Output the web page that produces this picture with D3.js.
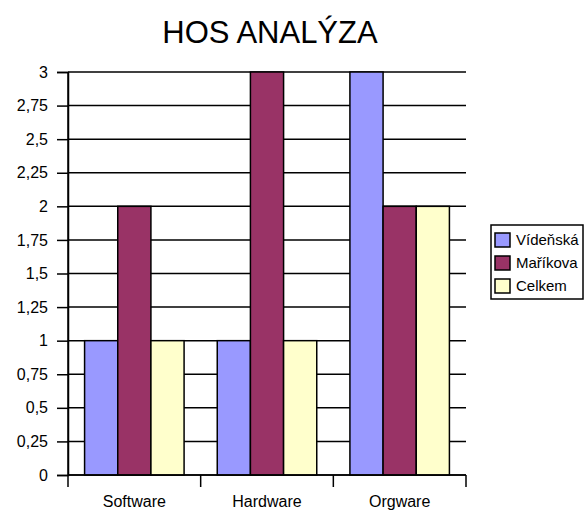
<!DOCTYPE html>
<html>
<head>
<meta charset="utf-8">
<script src="https://cdn.jsdelivr.net/npm/d3@7"></script>
<style>
  body { margin: 0; background: #fff; }
  text { font-family: "Liberation Sans", Arial, sans-serif; }
</style>
</head>
<body>
<svg id="chart" width="584" height="511"></svg>
<script>
// chart data
var categories = ["Software", "Hardware", "Orgware"];
var seriesNames = ["Vídeňská", "Maříkova", "Celkem"];
var videnska = [1, 1, 3];
var marikova = [2, 3, 2];
var celkem = [1, 1, 2];
var yTicks = [0, 0.25, 0.5, 0.75, 1, 1.25, 1.5, 1.75, 2, 2.25, 2.5, 2.75, 3];
var colors = ["#9999ff", "#993366", "#ffffcc"];

var series = [videnska, marikova, celkem];

var svg = d3.select("#chart");
var plotLeft = 68, plotRight = 466, plotTop = 72, plotBottom = 475;

var x0 = d3.scaleBand().domain(categories).range([plotLeft, plotRight]).paddingInner(0).paddingOuter(0);
var x1 = d3.scaleBand().domain(seriesNames).range([0, x0.bandwidth()]).paddingInner(0).paddingOuter(0.5);
var y = d3.scaleLinear().domain([0, 3]).range([plotBottom, plotTop]);

// title
svg.append("text")
  .attr("x", 270).attr("y", 43)
  .attr("text-anchor", "middle")
  .style("font-size", "31px")
  .text("HOS ANALÝZA");

// gridlines
svg.append("g")
  .selectAll("line")
  .data(yTicks)
  .enter().append("line")
  .attr("x1", plotLeft).attr("x2", plotRight)
  .attr("y1", function(d) { return y(d); })
  .attr("y2", function(d) { return y(d); })
  .attr("stroke", "#000").attr("stroke-width", 1.5);

// y axis
var fmt = function(d) { return String(d).replace(".", ","); };
svg.append("g")
  .attr("transform", "translate(" + plotLeft + ",0)")
  .call(d3.axisLeft(y).tickValues(yTicks).tickFormat(fmt).tickSize(11).tickPadding(9))
  .call(function(g) {
    g.select(".domain").attr("stroke", "#000").attr("stroke-width", 1.5);
    g.selectAll(".tick line").attr("stroke", "#000").attr("stroke-width", 1.5);
    g.selectAll("text").style("font-size", "16px").style("font-family", "Liberation Sans, Arial, sans-serif").attr("fill", "#000");
  });

// bars
var groups = svg.append("g")
  .selectAll("g")
  .data(categories)
  .enter().append("g")
  .attr("transform", function(d) { return "translate(" + x0(d) + ",0)"; });

groups.selectAll("rect")
  .data(function(d, i) { return series.map(function(s, j) { return { name: seriesNames[j], value: s[i], color: colors[j] }; }); })
  .enter().append("rect")
  .attr("x", function(d) { return x1(d.name); })
  .attr("width", x1.bandwidth())
  .attr("y", function(d) { return y(d.value); })
  .attr("height", function(d) { return plotBottom - y(d.value); })
  .attr("fill", function(d) { return d.color; })
  .attr("stroke", "#000").attr("stroke-width", 1.5);

// x axis
var xTickPos = [plotLeft].concat(categories.map(function(c) { return x0(c) + x0.bandwidth(); }));
svg.append("line")
  .attr("x1", plotLeft).attr("x2", plotRight).attr("y1", plotBottom).attr("y2", plotBottom)
  .attr("stroke", "#000").attr("stroke-width", 1.5);
svg.append("g").selectAll("line")
  .data(xTickPos)
  .enter().append("line")
  .attr("x1", function(d) { return d; }).attr("x2", function(d) { return d; })
  .attr("y1", plotBottom).attr("y2", plotBottom + 12)
  .attr("stroke", "#000").attr("stroke-width", 1.5);
svg.append("g").selectAll("text")
  .data(categories)
  .enter().append("text")
  .attr("x", function(d) { return x0(d) + x0.bandwidth() / 2; })
  .attr("y", 507)
  .attr("text-anchor", "middle")
  .style("font-size", "16px")
  .text(function(d) { return d; });

// y axis line
svg.append("line")
  .attr("x1", plotLeft).attr("x2", plotLeft).attr("y1", plotTop).attr("y2", plotBottom)
  .attr("stroke", "#000").attr("stroke-width", 1.5);

// legend
var legend = svg.append("g");
legend.append("rect")
  .attr("x", 491).attr("y", 225).attr("width", 92).attr("height", 74)
  .attr("fill", "#fff").attr("stroke", "#000").attr("stroke-width", 1.5);
var items = legend.selectAll("g.item")
  .data(seriesNames)
  .enter().append("g")
  .attr("class", "item")
  .attr("transform", function(d, i) { return "translate(495," + (240 + i * 23) + ")"; });
items.append("rect")
  .attr("x", 0).attr("y", -7).attr("width", 15).attr("height", 14)
  .attr("fill", function(d, i) { return colors[i]; })
  .attr("stroke", "#000").attr("stroke-width", 1.5);
items.append("text")
  .attr("x", 21).attr("y", 5)
  .style("font-size", "15px")
  .text(function(d) { return d; });
</script>
</body>
</html>
